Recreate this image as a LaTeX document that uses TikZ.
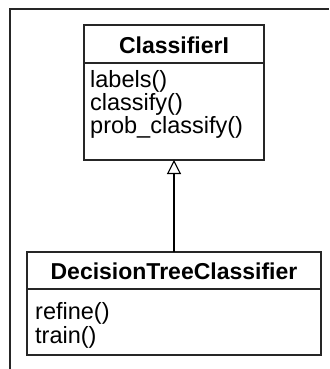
\documentclass[tikz,border=0pt]{standalone}
\usepackage{fontspec}
\setmainfont{Liberation Sans}
\usetikzlibrary{arrows.meta}
\begin{document}
\begin{tikzpicture}[x=1pt,y=-1pt,
  frame/.style={line width=1.3pt,draw=black!85},
  umlbox/.style={line width=1.3pt,draw=black!85},
  title/.style={font=\fontsize{23}{23}\selectfont\bfseries,anchor=base,inner sep=0pt},
  member/.style={font=\fontsize{23.5}{23.5}\selectfont,anchor=base west,inner sep=0pt},
  inherit/.style={line width=1.1pt,-{Triangle[open,length=14pt,width=14pt,line width=1.1pt]}}]
\useasboundingbox (0,0) rectangle (329,369);
% outer frame (left and top)
\draw[frame] (10,369) -- (10,9) -- (329,9);
% ClassifierI
\draw[umlbox] (84,25) rectangle (264,160);
\draw[umlbox] (84,63) -- (264,63);
\node[title] (c1) at (174,53) {ClassifierI};
\node[member] (m1) at (90,87) {labels()};
\node[member] (m2) at (90,110) {classify()};
\node[member] (m3) at (90,133) {prob\_classify()};
\coordinate (c1b) at (174,160);
% DecisionTreeClassifier
\draw[umlbox] (27,252) rectangle (321,355);
\draw[umlbox] (27,289) -- (321,289);
\node[title] (c2) at (174,279) {DecisionTreeClassifier};
\node[member] (n1) at (35,319) {refine()};
\node[member] (n2) at (35,343) {train()};
\coordinate (c2t) at (174,252);
\draw[inherit] (c2t) -- (c1b);
\end{tikzpicture}
\end{document}
